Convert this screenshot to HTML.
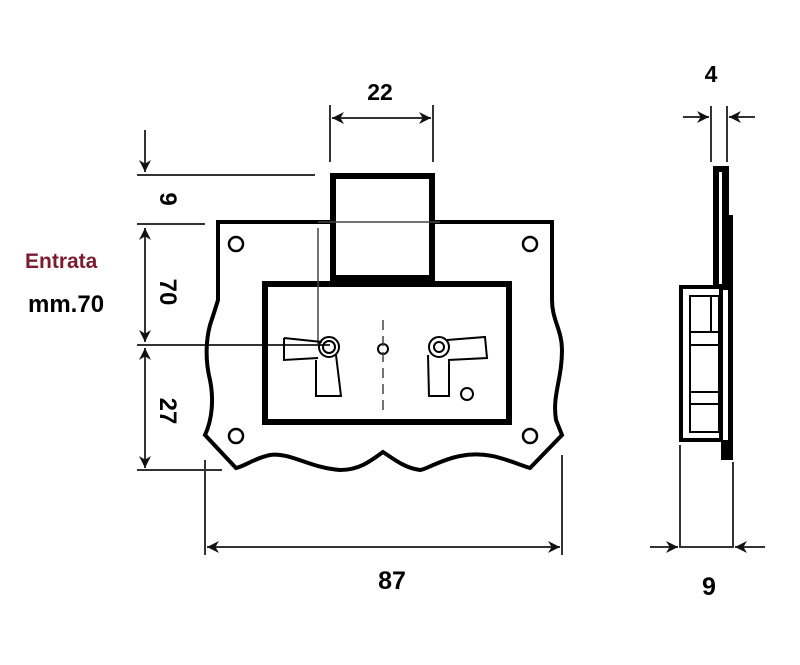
<!DOCTYPE html>
<html><head><meta charset="utf-8"><style>
html,body{margin:0;padding:0;background:#fff;}
svg{display:block;}
text{font-family:"Liberation Sans",sans-serif;font-weight:bold;}
</style></head><body>
<svg width="800" height="665" viewBox="0 0 800 665" xmlns="http://www.w3.org/2000/svg">
<defs>
<marker id="a" viewBox="0 0 10 10" refX="10" refY="5" markerWidth="18" markerHeight="12" orient="auto-start-reverse" markerUnits="userSpaceOnUse"><path d="M0,0 L10,5 L0,10 L3,5z" fill="#111"/></marker>
</defs>
<rect width="800" height="665" fill="#fff"/>
<g stroke="#333" stroke-width="2" fill="none">
<line x1="145" y1="130" x2="145" y2="172" marker-end="url(#a)"/>
<line x1="145" y1="228" x2="145" y2="342" marker-start="url(#a)" marker-end="url(#a)"/>
<line x1="145" y1="348" x2="145" y2="468" marker-start="url(#a)" marker-end="url(#a)"/>
<line x1="137" y1="175" x2="315" y2="175"/>
<line x1="137" y1="224" x2="205" y2="224"/>
<line x1="137" y1="345" x2="330" y2="345"/>
<line x1="137" y1="470" x2="222" y2="470"/>
<line x1="330" y1="105" x2="330" y2="162"/>
<line x1="433" y1="105" x2="433" y2="162"/>
<line x1="332" y1="118" x2="431" y2="118" marker-start="url(#a)" marker-end="url(#a)"/>
<line x1="205" y1="460" x2="205" y2="555"/>
<line x1="562" y1="455" x2="562" y2="555"/>
<line x1="207" y1="547" x2="560" y2="547" marker-start="url(#a)" marker-end="url(#a)"/>
<line x1="711" y1="106" x2="711" y2="162"/>
<line x1="727" y1="106" x2="727" y2="162"/>
<line x1="683" y1="117" x2="709" y2="117" marker-end="url(#a)"/>
<line x1="755" y1="117" x2="729" y2="117" marker-end="url(#a)"/>
<line x1="680" y1="445" x2="680" y2="548"/>
<line x1="733" y1="462" x2="733" y2="548"/>
<line x1="650" y1="547" x2="678" y2="547" marker-end="url(#a)"/>
<line x1="765" y1="547" x2="735" y2="547" marker-end="url(#a)"/>
<line x1="680" y1="547" x2="733" y2="547"/>
</g>
<path d="M218,222 L552,222 L552,300 C552,320 562,330 562,350 C562,380 552,395 556,420 L562,435 L530,468 C510,462 490,450 460,456 C440,460 425,470 420,470 C405,468 395,460 383,452 C372,460 360,470 340,470 C310,468 290,452 270,455 C255,458 245,466 236,468 L205,435 C212,420 214,400 210,380 C205,360 206,340 210,325 C215,310 218,300 218,300 Z" fill="none" stroke="#000" stroke-width="4"/>
<g fill="none" stroke="#000" stroke-width="2.5">
<circle cx="236" cy="244" r="7"/><circle cx="530" cy="244" r="7"/>
<circle cx="236" cy="436" r="7"/><circle cx="530" cy="436" r="7"/>
</g>
<rect x="333" y="176" width="99" height="102" fill="#fff" stroke="#000" stroke-width="6"/>
<line x1="318" y1="222" x2="440" y2="222" stroke="#444" stroke-width="1.5"/>
<rect x="265" y="284" width="244" height="138" fill="none" stroke="#000" stroke-width="6"/>
<line x1="318" y1="228" x2="318" y2="345" stroke="#444" stroke-width="1.5"/>
<g fill="none" stroke="#000" stroke-width="2">
<path d="M284,338 L322,342 M284,338 L284,360 L318,358 M316,360 L316,396 L341,396 L336,355"/>
<circle cx="329" cy="347" r="6"/><circle cx="329" cy="347" r="10"/>
<circle cx="383" cy="349" r="5"/>
<path d="M447,340 L485,337 L487,358 L448,360 M449,360 L449,396 L429,396 L428,355"/>
<circle cx="439" cy="347" r="5"/><circle cx="439" cy="347" r="10"/>
<circle cx="467" cy="394" r="6"/>
</g>
<line x1="383" y1="320" x2="383" y2="410" stroke="#444" stroke-width="1.5" stroke-dasharray="10,6"/>
<g fill="#000">
<rect x="713" y="166" width="16" height="124"/>
<rect x="728" y="215" width="5" height="245"/>
<rect x="721" y="440" width="12" height="20"/>
</g>
<rect x="719" y="172" width="3" height="112" fill="#fff"/>
<rect x="681" y="287" width="40" height="153" fill="#fff" stroke="#000" stroke-width="4"/>
<g fill="none" stroke="#000" stroke-width="2">
<rect x="690" y="296" width="29" height="136"/>
<line x1="711" y1="296" x2="711" y2="332"/>
<line x1="690" y1="332" x2="719" y2="332"/><line x1="690" y1="345" x2="719" y2="345"/>
<line x1="690" y1="392" x2="719" y2="392"/><line x1="690" y1="404" x2="719" y2="404"/>
</g>
<text x="380" y="100" font-size="23" text-anchor="middle">22</text>
<text x="711" y="82" font-size="23" text-anchor="middle">4</text>
<text x="392" y="589" font-size="25" text-anchor="middle">87</text>
<text x="709" y="595" font-size="25" text-anchor="middle">9</text>
<text x="25" y="268" font-size="21" fill="#7b1c2e">Entrata</text>
<text x="28" y="312" font-size="24">mm.70</text>
<text font-size="24" transform="translate(160,199) rotate(90)" text-anchor="middle">9</text>
<text font-size="24" transform="translate(160,292) rotate(90)" text-anchor="middle">70</text>
<text font-size="24" transform="translate(160,411) rotate(90)" text-anchor="middle">27</text>
</svg>
</body></html>
